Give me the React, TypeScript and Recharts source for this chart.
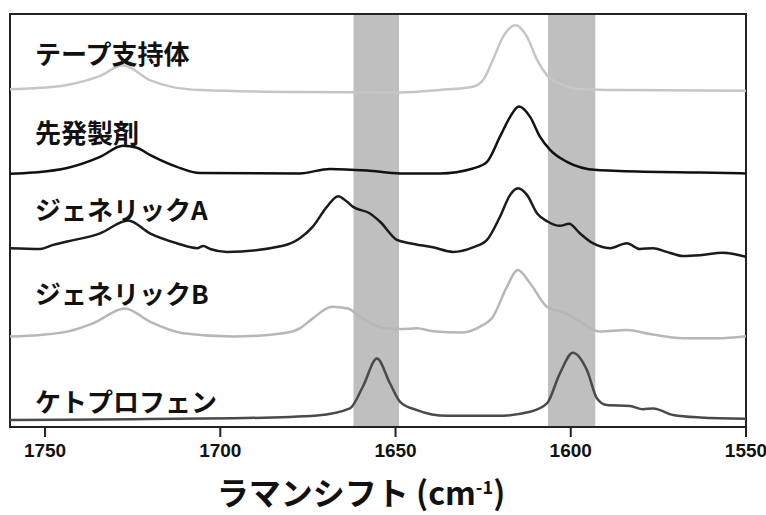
import { LineChart, Line, XAxis, YAxis, ReferenceArea } from "recharts";

// ─── Data ─────────────────────────────────────────────────────────────────────
type Pt = { x: number; y: number };
const pts = (rows: number[][]): Pt[] => rows.map(([x, y]) => ({ x, y }));

const X_TICKS = [1750, 1700, 1650, 1600, 1550];
const BANDS = [
  [1662, 1649],
  [1606.5, 1593],
];

// stacked intensities (arbitrary units, offset per spectrum)
const tape = pts([
  [1760, 81.8], [1753.4, 82.0], [1743.7, 82.8], [1734.3, 85.0], [1727.8, 87.6],
  [1720.1, 84.0], [1713.5, 82.3], [1705.8, 81.6], [1677.3, 81.1], [1648.7, 81.0],
  [1637.3, 81.6], [1627.9, 82.4], [1625.0, 84.0], [1622.2, 88.9], [1619.3, 94.5],
  [1615.6, 97.3], [1612.5, 94.5], [1609.6, 88.9], [1606.8, 85.2], [1602.2, 82.8],
  [1596.5, 81.8], [1586.0, 81.6], [1550, 81.4],
]);

const brand = pts([
  [1760, 61.3], [1753.4, 61.6], [1743.7, 62.7], [1734.3, 65.4], [1727.8, 68.1],
  [1723.8, 67.6], [1720.1, 65.9], [1712.4, 63.0], [1705.8, 61.5], [1677.3, 61.4],
  [1668.7, 62.5], [1658.1, 62.1], [1648.7, 61.4], [1637.3, 61.4], [1627.9, 62.6],
  [1623.9, 64.2], [1620.2, 70.3], [1617.3, 75.1], [1614.8, 77.6], [1611.6, 75.1],
  [1608.8, 70.3], [1605.9, 67.1], [1601.1, 64.2], [1592.5, 62.2], [1586.0, 62.0],
  [1563.1, 61.6], [1550, 61.4],
]);

const genericA = pts([
  [1760, 43.3], [1751.4, 43.1], [1747.7, 44.1], [1743.7, 44.9], [1734.3, 46.9],
  [1726.3, 50.0], [1720.1, 46.9], [1712.4, 44.5], [1706.6, 43.3], [1704.9, 43.8],
  [1702.9, 43.1], [1698.1, 42.4], [1682.1, 43.9], [1677.3, 45.7], [1673.6, 48.5],
  [1669.6, 53.3], [1666.4, 55.9], [1663.9, 54.6], [1662.1, 53.3], [1657.3, 51.7],
  [1654.4, 49.7], [1649.6, 45.3], [1645.9, 44.5], [1639.3, 43.5], [1633.6, 42.4],
  [1627.9, 43.5], [1623.9, 45.3], [1620.2, 50.9], [1617.3, 56.2], [1615.1, 57.8],
  [1612.5, 56.2], [1609.6, 51.7], [1606.5, 49.7], [1603.1, 48.7], [1600.5, 49.2],
  [1597.4, 46.9], [1593.7, 44.5], [1588.8, 43.3], [1584.0, 44.5], [1580.3, 43.1],
  [1576.5, 43.3], [1572.6, 42.4], [1568.0, 41.4], [1563.1, 41.6], [1556.6, 42.2],
  [1550, 41.2],
]);

const genericB = pts([
  [1760, 21.9], [1751.4, 22.3], [1743.7, 23.1], [1736.3, 25.1], [1727.2, 28.7],
  [1720.1, 25.5], [1710.6, 22.7], [1696.4, 21.9], [1682.1, 22.7], [1677.3, 23.9],
  [1673.6, 26.3], [1668.1, 29.1], [1663.6, 28.7], [1660.1, 26.7], [1653.6, 24.0],
  [1648.7, 23.7], [1643.9, 23.9], [1639.3, 23.2], [1630.8, 22.9], [1625.9, 24.3],
  [1622.2, 26.7], [1618.2, 34.0], [1615.1, 38.0], [1611.6, 34.8], [1606.8, 29.1],
  [1601.1, 27.4], [1597.4, 25.5], [1591.7, 23.1], [1584.0, 23.5], [1577.4, 22.5],
  [1568.0, 21.5], [1558.3, 21.5], [1550, 22.0],
]);

const ketoprofen = pts([
  [1760, 1.7], [1724.9, 1.9], [1696.4, 2.1], [1672.4, 2.8], [1663.0, 4.5],
  [1659.3, 9.8], [1655.3, 16.6], [1651.6, 10.6], [1648.7, 6.1], [1643.9, 4.1],
  [1635.3, 2.7], [1621.1, 2.7], [1611.6, 3.7], [1606.8, 5.7], [1603.1, 13.0],
  [1599.4, 18.0], [1595.4, 13.8], [1592.5, 6.9], [1589.7, 5.3], [1583.1, 5.1],
  [1579.4, 4.3], [1576.5, 4.5], [1570.8, 2.9], [1563.1, 2.3], [1550, 2.0],
]);

const SERIES = [
  { name: "テープ支持体", data: tape, color: "#c6c6c6", labelY: 53 },
  { name: "先発製剤", data: brand, color: "#111111", labelY: 132 },
  { name: "ジェネリックA", data: genericA, color: "#1b1b1b", labelY: 209 },
  { name: "ジェネリックB", data: genericB, color: "#b7b7b7", labelY: 293 },
  { name: "ケトプロフェン", data: ketoprofen, color: "#4a4a4a", labelY: 401 },
];

const JP = "'Noto Sans CJK JP', 'Noto Sans', sans-serif";
const NUM = "'Liberation Sans Narrow', 'Liberation Sans', Arial, sans-serif";
const FRAME = "#222";

export default function App() {
  return (
    <div style={{ position: "absolute", left: 0, top: 0, width: 766, height: 515, background: "#fff", overflow: "hidden" }}>
      <LineChart width={766} height={515} margin={{ top: 14, right: 20, bottom: 58, left: 10 }}>
        <XAxis
          type="number" dataKey="x" domain={[1550, 1760]} reversed allowDataOverflow
          ticks={X_TICKS} tickSize={10} tickMargin={7} height={30}
          stroke={FRAME} strokeWidth={2}
          tick={{ fontSize: 19, fontFamily: NUM, fontWeight: 700, fill: "#111" }}
          tickLine={{ stroke: FRAME, strokeWidth: 2 }}
        />
        <YAxis type="number" domain={[0, 100]} tick={false} tickLine={false} width={0} stroke={FRAME} strokeWidth={2} />
        {BANDS.map(([a, b], i) => (
          <ReferenceArea key={i} x1={a} x2={b} y1={0} y2={100} fill="#bfbfbf" fillOpacity={1} stroke="none" ifOverflow="hidden" />
        ))}
        <ReferenceArea x1={1760} x2={1550} y1={0} y2={100} fill="none" stroke={FRAME} strokeWidth={2} ifOverflow="visible" />
        {SERIES.map((s) => (
          <Line key={s.name} data={s.data} dataKey="y" type="monotone" stroke={s.color}
            strokeWidth={2.5} dot={false} isAnimationActive={false} />
        ))}
      </LineChart>

      {SERIES.map((s) => (
        <div key={s.name} style={{
          position: "absolute", left: 35, top: s.labelY - 15, height: 30, lineHeight: "30px",
          fontFamily: JP, fontWeight: 700, fontSize: 26, color: "#111", whiteSpace: "nowrap",
        }}>{s.name}</div>
      ))}

      <div style={{
        position: "absolute", left: 0, width: 722, top: 472, textAlign: "center",
        fontFamily: JP, fontWeight: 700, fontSize: 32, lineHeight: "38px", color: "#111", whiteSpace: "nowrap",
      }}>
        ラマンシフト (cm<sup style={{ fontSize: 18, verticalAlign: "top", lineHeight: "28px" }}>-1</sup>)
      </div>
    </div>
  );
}
